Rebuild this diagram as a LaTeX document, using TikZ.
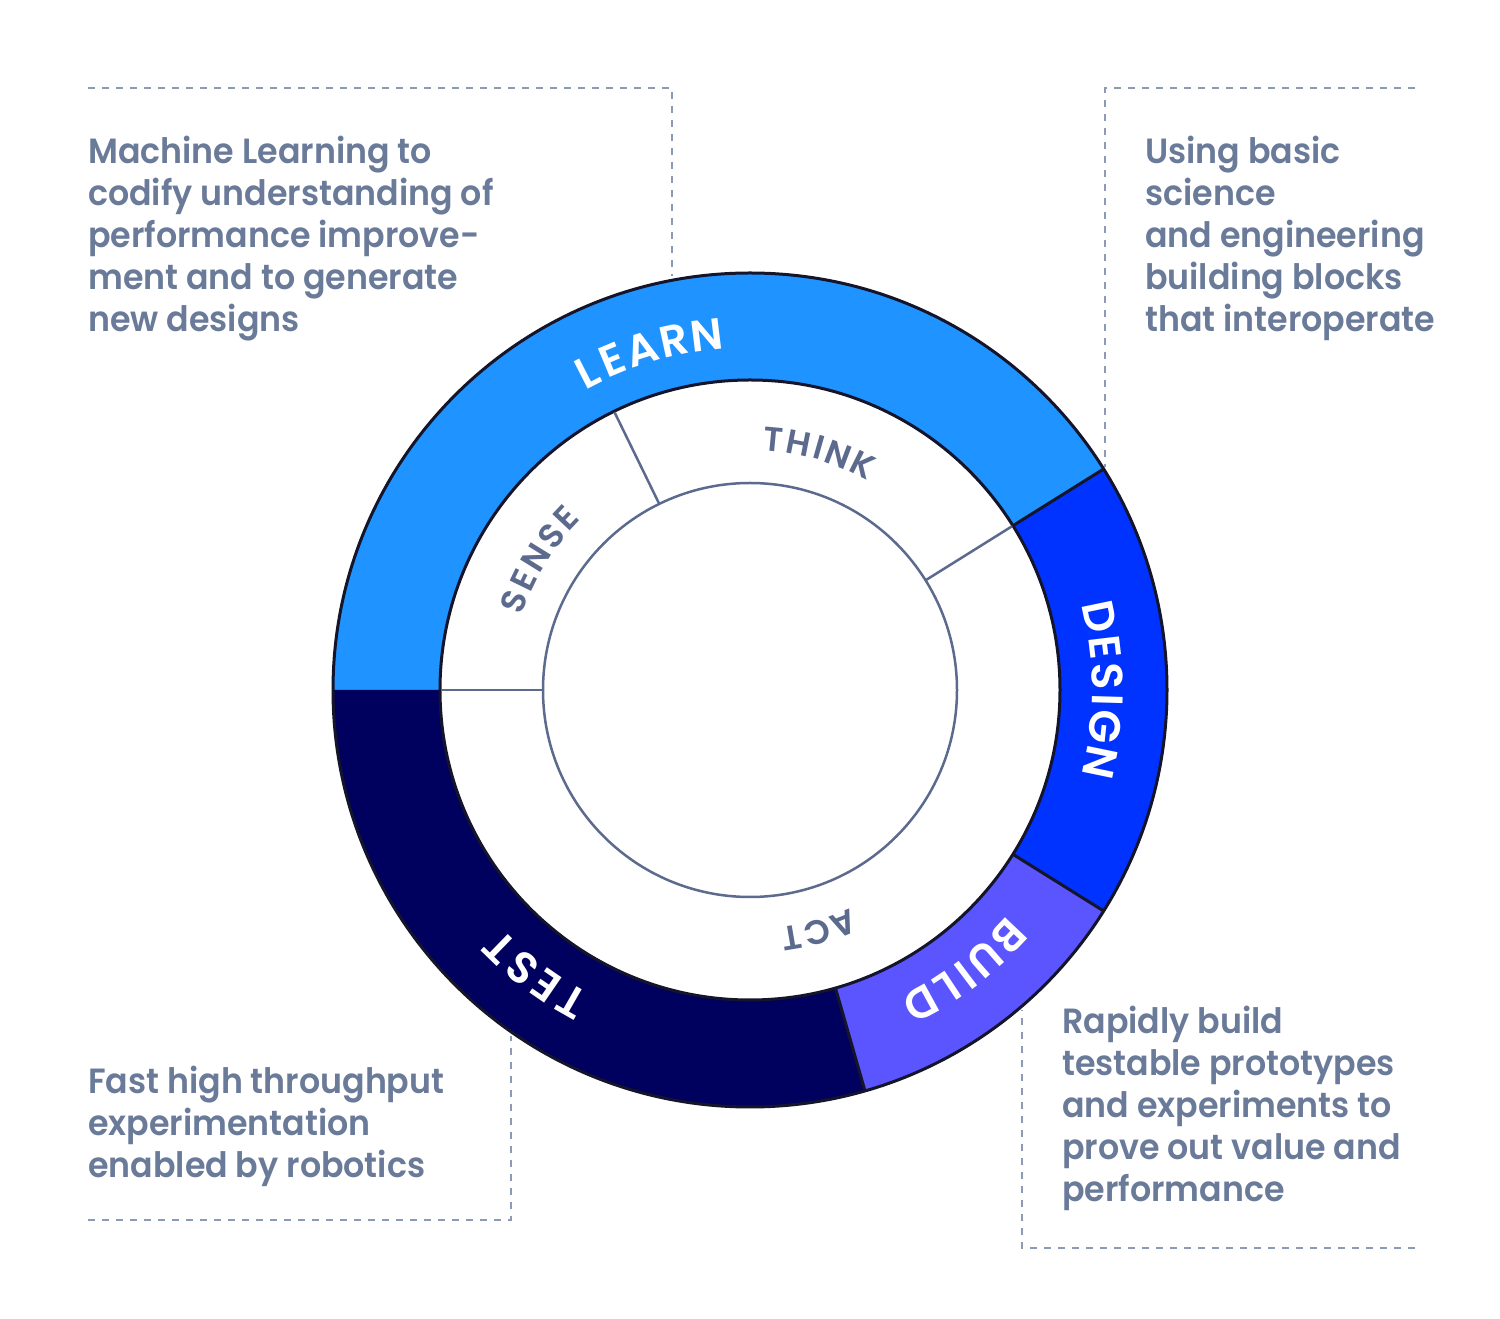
\documentclass[tikz,border=0pt]{standalone}
\usepackage{fontspec}
\setmainfont{Poppins}
\newfontfamily\txtfont{Poppins SemiBold}[FakeStretch=0.95]
\newfontfamily\ringfontfam{Poppins SemiBold}
\newcommand\outerfont{\ringfontfam\fontsize{44pt}{44pt}\selectfont}
\newcommand\innerfont{\ringfontfam\fontsize{34pt}{34pt}\selectfont}
\definecolor{learnc}{HTML}{1F93FF}
\definecolor{designc}{HTML}{0033FF}
\definecolor{buildc}{HTML}{5A55FF}
\definecolor{testc}{HTML}{00005F}
\definecolor{ringline}{HTML}{14142B}
\definecolor{innerline}{HTML}{5B6A8D}
\definecolor{bodytext}{HTML}{6A7A99}
\definecolor{dashc}{HTML}{8B9BB6}
\begin{document}
\begin{tikzpicture}[x=1pt,y=1pt,
  dashline/.style={draw=dashc, line width=1.5pt, dash pattern=on 7pt off 7pt},
  body/.style={anchor=north west, inner sep=0pt, align=left, text=bodytext,
    font=\txtfont\fontsize{35pt}{42pt}\selectfont},
  ringedge/.style={draw=ringline, line width=3pt},
  inneredge/.style={draw=innerline, line width=2.5pt},
  outerletter/.style={inner sep=0pt, anchor=base, text=white, font=\outerfont, rotate=#1-90},
  innerletter/.style={inner sep=0pt, anchor=base, text=innerline, font=\innerfont, rotate=#1-90}
]
\useasboundingbox (0,0) rectangle (1500,1318);
\fill[white] (0,0) rectangle (1500,1318);

% dashed frames
\coordinate (tla) at (88,1230);
\coordinate (tlb) at (672,1230);
\coordinate (tlc) at (672,1042);
\draw[dashline] (tla) -- (tlb) -- (tlc);
\coordinate (tra) at (1415,1230);
\coordinate (trb) at (1105,1230);
\coordinate (trc) at (1105,851);
\draw[dashline] (tra) -- (trb) -- (trc);
\coordinate (bla) at (88,98);
\coordinate (blb) at (511,98);
\coordinate (blc) at (511,282);
\draw[dashline] (bla) -- (blb) -- (blc);
\coordinate (bra) at (1415,70);
\coordinate (brb) at (1022,70);
\coordinate (brc) at (1022,308);
\draw[dashline] (bra) -- (brb) -- (brc);

% text blocks
\node[body] (tltext) at (88,1182) {Machine Learning to\\codify understanding of\\performance improve-\\ment and to generate\\new designs};
\node[body] (trtext) at (1145,1182) {Using basic\\science\\and engineering\\building blocks\\that interoperate};
\node[body] (bltext) at (88,252) {Fast high throughput\\experimentation\\enabled by robotics};
\node[body] (brtext) at (1062,312) {Rapidly build\\testable prototypes\\and experiments to\\prove out value and\\performance};

\begin{scope}[shift={(750,628)}]
  % ring segments
  \fill[learnc] (32:417) arc[start angle=32,end angle=180,radius=417] -- (180:310) arc[start angle=180,end angle=32,radius=310] -- cycle;
  \fill[designc] (-32:417) arc[start angle=-32,end angle=32,radius=417] -- (32:310) arc[start angle=32,end angle=-32,radius=310] -- cycle;
  \fill[buildc] (-74:417) arc[start angle=-74,end angle=-32,radius=417] -- (-32:310) arc[start angle=-32,end angle=-74,radius=310] -- cycle;
  \fill[testc] (180:417) arc[start angle=180,end angle=286,radius=417] -- (286:310) arc[start angle=286,end angle=180,radius=310] -- cycle;
  % outlines
  \draw[ringedge] (0,0) circle[radius=417];
  \draw[ringedge] (0,0) circle[radius=310];
  \draw[ringedge] (32:310) -- (32:417);
  \draw[ringedge] (-32:310) -- (-32:417);
  \draw[ringedge] (-74:310) -- (-74:417);
  % inner ring
  \draw[inneredge] (0,0) circle[radius=207];
  \draw[inneredge] (116:207) -- (116:309);
  \draw[inneredge] (32:207) -- (32:309);
  \draw[inneredge] (180:207) -- (180:309);
  % outer labels (clockwise, tops outward)
  \foreach \a/\c [count=\i] in {117.08/L,112.67/E,107.58/A,102.28/R,96.92/N}
    \node[outerletter=\a] (learn-\i) at (\a:342) {\c};
  \foreach \a/\c [count=\i] in {11.82/D,6.80/E,2.14/S,-1.67/I,-5.95/G,-11.69/N}
    \node[outerletter=\a] (design-\i) at (\a:342) {\c};
  \foreach \a/\c [count=\i] in {-43.49/B,-48.76/U,-52.90/I,-56.45/L,-61.32/D}
    \node[outerletter=\a] (build-\i) at (\a:342) {\c};
  \foreach \a/\c [count=\i] in {240.22/T,235.44/E,230.66/S,225.79/T}
    \node[outerletter=\a] (test-\i) at (\a:344) {\c};
  % inner labels
  \foreach \a/\c [count=\i] in {84.61/T,78.84/H,74.10/I,69.35/N,63.49/K}
    \node[innerletter=\a] (think-\i) at (\a:240) {\c};
  \foreach \a/\c [count=\i] in {159.43/S,154.09/E,148.20/N,142.21/S,136.87/E}
    \node[innerletter=\a] (sense-\i) at (\a:240) {\c};
  \foreach \a/\c [count=\i] in {-68.17/A,-74.49/C,-80.34/T}
    \node[innerletter=\a] (act-\i) at (\a:240) {\c};
\end{scope}
\end{tikzpicture}
\end{document}
